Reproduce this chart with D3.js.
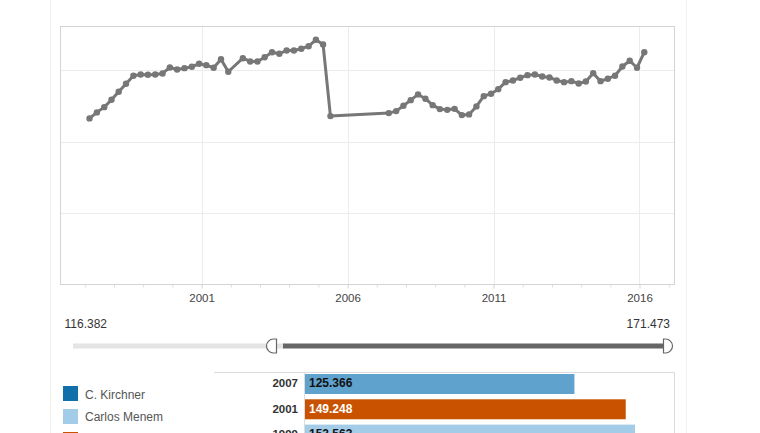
<!DOCTYPE html>
<html><head><meta charset="utf-8">
<script src="https://cdn.jsdelivr.net/npm/d3@7"></script>
<style>
html,body{margin:0;padding:0;background:#fff;overflow:hidden}
svg{display:block;font-family:Arial,"Liberation Sans",sans-serif}
</style></head>
<body>
<svg id="c" width="760" height="433"></svg>
<script>
// ---- data ----
const lineDates = [
"1997-03","1997-06","1997-09","1997-12","1998-03","1998-06","1998-09","1998-12",
"1999-03","1999-06","1999-09","1999-12","2000-03","2000-06","2000-09","2000-12",
"2001-03","2001-06","2001-09","2001-12","2002-06","2002-09","2002-12",
"2003-03","2003-06","2003-09","2003-12","2004-03","2004-06","2004-09","2004-12",
"2005-03","2005-06",
"2007-06","2007-09","2007-12","2008-03","2008-06","2008-09","2008-12",
"2009-03","2009-06","2009-09","2009-12","2010-03","2010-06","2010-09","2010-12",
"2011-03","2011-06","2011-09","2011-12","2012-03","2012-06","2012-09","2012-12",
"2013-03","2013-06","2013-09","2013-12","2014-03","2014-06","2014-09","2014-12",
"2015-03","2015-06","2015-09","2015-12","2016-03"];
const lineValues = [
116.382,120.6,124.3,129.5,135.1,140.7,146.3,147.2,
147.0,147.2,147.9,152.1,150.7,151.6,152.6,154.7,
153.7,151.9,157.9,149.1,158.6,156.3,156.3,
159.3,162.8,161.7,164.0,164.0,165.2,167.0,171.473,
168.2,118.0,
120.1,121.5,125.3,129.2,133.2,130.2,125.7,
122.9,122.4,123.1,118.7,119.2,124.8,132.0,133.7,
136.9,141.8,143.0,144.9,146.7,147.2,145.8,145.1,
143.0,141.8,142.5,140.9,142.3,148.1,142.5,144.2,
146.3,152.8,156.8,151.9,162.8];
const yGrid = [0, 50, 100, 150];
const xMajorTicks = ["2001","2006","2011","2016"];
const xMinorTicks = ["1997","1998","1999","2000","2002","2003","2004","2005","2007","2008","2009","2010","2012","2013","2014","2015","2017"];
const sliderMin = 116.382, sliderMax = 171.473;
const barYears = ["2007","2001","1999"];
const barValues = [125.366, 149.248, 153.563];
const barPresidents = ["N. Kirchner","De la Rúa","Carlos Menem"];
const legendNames = ["C. Kirchner","Carlos Menem","De la Rúa"];
const legendColors = ["#1170aa","#a3cce9","#c85200"];
const presidentColor = {"N. Kirchner":"#5fa2ce","De la Rúa":"#c85200","Carlos Menem":"#a3cce9"};

// ---- drawing ----
const svg = d3.select("#c");
const parse = d3.timeParse("%Y-%m");
const py = d3.timeParse("%Y");
const data = lineDates.map((d,i)=>({date:parse(d), v:lineValues[i]}));

// panel lines
svg.append("line").attr("x1",50.5).attr("x2",50.5).attr("y1",0).attr("y2",433).attr("stroke","#f0f0f0");
svg.append("line").attr("x1",686.5).attr("x2",686.5).attr("y1",0).attr("y2",433).attr("stroke","#f0f0f0");

const L=60.5, R=674.5, T=26.5, B=284.5;
const x = d3.scaleTime().domain([new Date(1996,2,3), new Date(2017,2,14)]).range([L,R]);
const y = d3.scaleLinear().domain([0,180.8]).range([B,T]);

// gridlines
svg.append("g").selectAll("line").data(yGrid.filter(v=>v>0)).join("line")
  .attr("x1",L).attr("x2",R).attr("y1",d=>Math.round(y(d))+0.5).attr("y2",d=>Math.round(y(d))+0.5)
  .attr("stroke","#ececec");
svg.append("g").selectAll("line").data(xMajorTicks).join("line")
  .attr("x1",d=>Math.round(x(py(d)))+0.5).attr("x2",d=>Math.round(x(py(d)))+0.5)
  .attr("y1",T).attr("y2",B).attr("stroke","#ececec");

// frame
svg.append("rect").attr("x",L).attr("y",T).attr("width",R-L).attr("height",B-T)
  .attr("fill","none").attr("stroke","#d4d4d4");

// x axis
const xAxis = d3.axisBottom(x).tickValues(xMajorTicks.map(py)).tickFormat(d3.timeFormat("%Y")).tickSize(4).tickPadding(5);
const gx = svg.append("g").attr("transform",`translate(0,${B})`).call(xAxis);
gx.select(".domain").remove();
gx.selectAll("line").attr("stroke","#d4d4d4");
gx.selectAll("text").attr("fill","#444").style("font-size","11.5px").style("font-family","Arial,'Liberation Sans',sans-serif");
const xMinor = d3.axisBottom(x).tickValues(xMinorTicks.map(py).filter(d=>x(d)>L&&x(d)<R)).tickFormat("").tickSize(3);
const gm = svg.append("g").attr("transform",`translate(0,${B})`).call(xMinor);
gm.select(".domain").remove();
gm.selectAll("line").attr("stroke","#dcdcdc");

// line
svg.append("path").datum(data)
  .attr("d", d3.line().x(d=>x(d.date)).y(d=>y(d.v)))
  .attr("fill","none").attr("stroke","#777").attr("stroke-width",3).attr("stroke-linejoin","round");
svg.append("g").selectAll("circle").data(data).join("circle")
  .attr("cx",d=>x(d.date)).attr("cy",d=>y(d.v)).attr("r",3.2).attr("fill","#777");

// slider
const fmt = d3.format(".3f");
svg.append("text").attr("x",64.5).attr("y",328).attr("fill","#333").style("font-size","12px").text(fmt(sliderMin));
svg.append("text").attr("x",670).attr("y",328).attr("text-anchor","end").attr("fill","#333").style("font-size","12px").text(fmt(sliderMax));
const sY = 346;
svg.append("line").attr("x1",73).attr("x2",284).attr("y1",sY).attr("y2",sY).attr("stroke","#e4e4e4").attr("stroke-width",5);
svg.append("line").attr("x1",283).attr("x2",664).attr("y1",sY).attr("y2",sY).attr("stroke","#666").attr("stroke-width",5);
svg.append("path").attr("d",`M276.5,${sY-7} L273.5,${sY-7} A7,7 0 0 0 273.5,${sY+7} L276.5,${sY+7} Z`)
  .attr("fill","#fff").attr("stroke","#666").attr("stroke-width",1.2);
svg.append("path").attr("d",`M663.5,${sY-7} L665.5,${sY-7} A7,7 0 0 1 665.5,${sY+7} L663.5,${sY+7} Z`)
  .attr("fill","#fff").attr("stroke","#666").attr("stroke-width",1.2);

// bar chart
const step = 25.3, pad = 0.21;
const bx = d3.scaleLinear().domain([0, sliderMax]).range([305, 673.5]);
const by = d3.scaleBand().domain(barYears).range([374, 374 + step*(barYears.length - pad)]).paddingInner(pad).paddingOuter(0);
svg.append("line").attr("x1",214).attr("x2",674.5).attr("y1",372.5).attr("y2",372.5).attr("stroke","#dcdcdc");
svg.append("line").attr("x1",674.5).attr("x2",674.5).attr("y1",372.5).attr("y2",433).attr("stroke","#dcdcdc");
svg.append("line").attr("x1",304.5).attr("x2",304.5).attr("y1",372.5).attr("y2",433).attr("stroke","#dcdcdc");
const bars = svg.append("g");
bars.selectAll("rect").data(barYears).join("rect")
  .attr("x",bx(0)).attr("y",d=>by(d)).attr("height",by.bandwidth())
  .attr("width",(d,i)=>bx(barValues[i])-bx(0))
  .attr("fill",(d,i)=>presidentColor[barPresidents[i]]);
bars.selectAll("text.v").data(barYears).join("text").attr("class","v")
  .attr("x",309).attr("y",d=>by(d)+13.2)
  .attr("fill",(d,i)=>barPresidents[i]==="De la Rúa"?"#fff":"#111")
  .style("font-size","12px").style("font-weight","bold")
  .text((d,i)=>fmt(barValues[i]));
bars.selectAll("text.y").data(barYears).join("text").attr("class","y")
  .attr("x",298).attr("y",d=>by(d)+13.2).attr("text-anchor","end")
  .attr("fill","#333").style("font-size","11.5px").style("font-weight","bold")
  .text(d=>d);

// legend
const lg = svg.append("g");
lg.selectAll("rect").data(legendNames).join("rect")
  .attr("x",63).attr("y",(d,i)=>386+i*23).attr("width",15).attr("height",15)
  .attr("fill",(d,i)=>legendColors[i]);
lg.selectAll("text").data(legendNames).join("text")
  .attr("x",85).attr("y",(d,i)=>398.5+i*22.5).attr("fill","#555").style("font-size","12px")
  .text(d=>d);
</script>
</body></html>
